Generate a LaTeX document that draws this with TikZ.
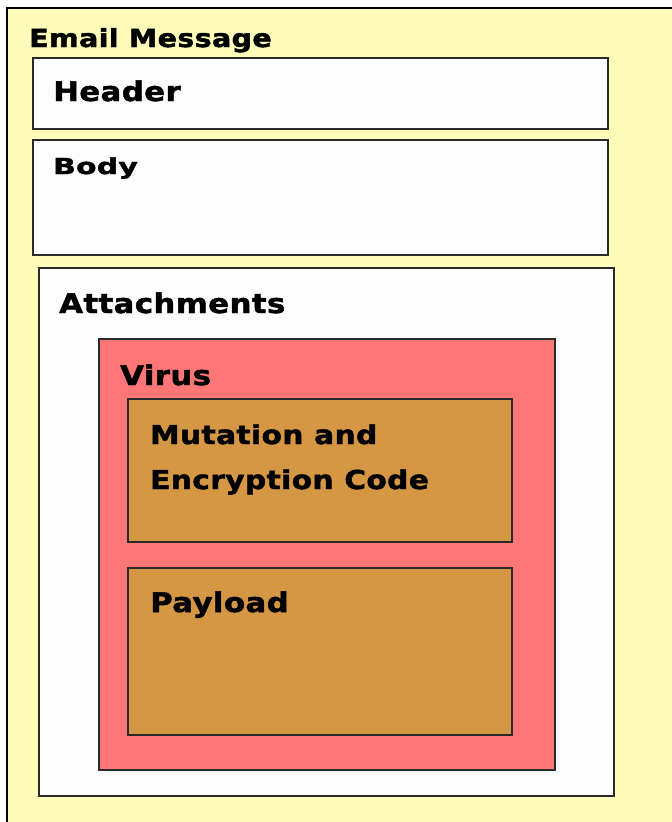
\documentclass[tikz,border=0pt]{standalone}
\usepackage{fontspec}
\setmainfont{DejaVu Sans}
\newfontfamily\lblfont{DejaVu Sans}[UprightFont={* Bold}, FakeStretch=1.14, LetterSpace=1.5, FakeBold=1.8]
\newfontfamily\bodyfont{DejaVu Sans}[UprightFont={* Bold}, FakeStretch=1.35, LetterSpace=1.5, FakeBold=1.8]
\usetikzlibrary{shadows}
\definecolor{bgyellow}{HTML}{FEFCB8}
\definecolor{boxwhite}{HTML}{FDFDFD}
\definecolor{virusred}{HTML}{FF7676}
\definecolor{codeorange}{HTML}{D69745}
\definecolor{edge}{HTML}{2A2A2A}
\tikzset{
  box/.style={draw=edge, line width=1.6pt, anchor=north west, inner sep=0pt,
    drop shadow={shadow xshift=1.2pt, shadow yshift=-1.2pt, fill=gray!70, opacity=1}},
  lbl/.style={anchor=base west, inner sep=0pt, font=\lblfont\fontsize{#1}{#1}\selectfont},
  bodylbl/.style={anchor=base west, inner sep=0pt, font=\bodyfont\fontsize{#1}{#1}\selectfont},
}
\begin{document}
\begin{tikzpicture}[x=1pt,y=-1pt]
\useasboundingbox (0,0) rectangle (672,822);
\fill[white] (0,0) rectangle (672,822);
\node[draw=black, line width=1.6pt, anchor=north west, inner sep=0pt, fill=bgyellow, minimum width=700pt, minimum height=850pt] (email) at (6,7) {};
\node[lbl=25] (emailt) at (29,47) {Email Message};
\node[box, fill=boxwhite, minimum width=575pt, minimum height=71pt] (header) at (32,57) {};
\node[lbl=27] (headert) at (53,101) {Header};
\node[box, fill=boxwhite, minimum width=575pt, minimum height=115pt] (body) at (32,139) {};
\node[bodylbl=22] (bodyt) at (53,174) {Body};
\node[box, fill=boxwhite, minimum width=575pt, minimum height=528pt] (attach) at (38,267) {};
\node[lbl=27] (attacht) at (59,313) {Attachments};
\node[box, fill=virusred, minimum width=456pt, minimum height=431pt] (virus) at (98,338) {};
\node[lbl=27] (virust) at (120,385) {Virus};
\node[box, fill=codeorange, minimum width=384pt, minimum height=143pt] (mut) at (127,398) {};
\node[lbl=26] (mutt) at (150,444) {Mutation and};
\node[lbl=26] (mutt2) at (150,489) {Encryption Code};
\node[box, fill=codeorange, minimum width=384pt, minimum height=167pt] (pay) at (127,567) {};
\node[lbl=27] (payt) at (150,612) {Payload};
\end{tikzpicture}
\end{document}
